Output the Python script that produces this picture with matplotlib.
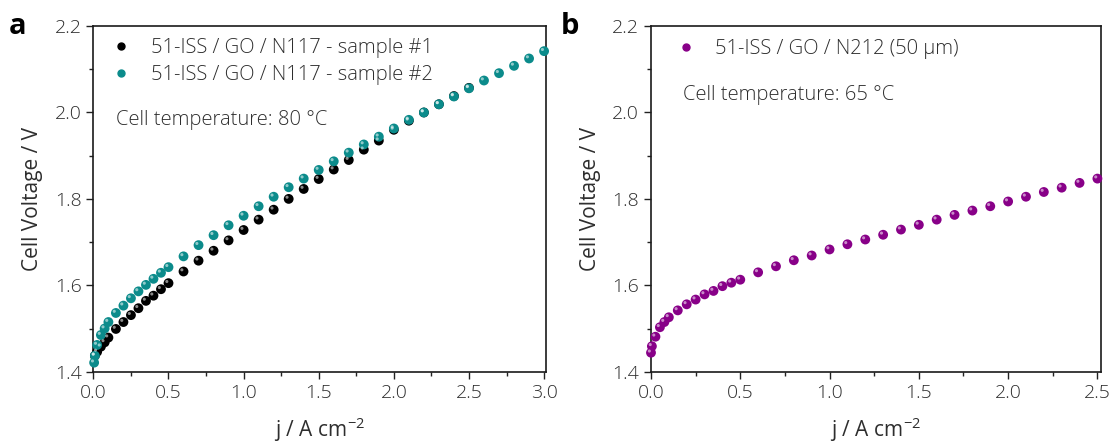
import matplotlib
matplotlib.use("Agg")
import matplotlib.pyplot as plt
from matplotlib.lines import Line2D
from matplotlib.transforms import offset_copy
from matplotlib.ticker import MultipleLocator, FormatStrFormatter

plt.rcParams['font.family'] = ['Open Sans', 'DejaVu Sans']
plt.rcParams['font.weight'] = 'light'

# panel a: N117, two samples, 80 °C
j_s1 = [0.01, 0.025, 0.05, 0.075, 0.1, 0.15, 0.2, 0.25, 0.3, 0.35, 0.4, 0.45, 0.5,
        0.6, 0.7, 0.8, 0.9, 1.0, 1.1, 1.2, 1.3, 1.4, 1.5, 1.6, 1.7, 1.8, 1.9,
        2.0, 2.1, 2.2, 2.3, 2.4, 2.5]
v_s1 = [1.437, 1.446, 1.458, 1.468, 1.479, 1.499, 1.515, 1.531, 1.547, 1.564, 1.576, 1.591, 1.605,
        1.632, 1.657, 1.680, 1.704, 1.728, 1.752, 1.775, 1.800, 1.823, 1.846, 1.868, 1.890, 1.914, 1.935,
        1.960, 1.981, 2.000, 2.019, 2.038, 2.057]

j_s2 = [0.005, 0.01, 0.025, 0.05, 0.075, 0.1, 0.15, 0.2, 0.25, 0.3, 0.35, 0.4, 0.45, 0.5,
        0.6, 0.7, 0.8, 0.9, 1.0, 1.1, 1.2, 1.3, 1.4, 1.5, 1.6, 1.7, 1.8, 1.9,
        2.0, 2.1, 2.2, 2.3, 2.4, 2.5, 2.6, 2.7, 2.8, 2.9, 3.0]
v_s2 = [1.421, 1.437, 1.462, 1.485, 1.500, 1.515, 1.536, 1.553, 1.570, 1.586, 1.601, 1.615, 1.629, 1.642,
        1.667, 1.693, 1.716, 1.739, 1.761, 1.783, 1.805, 1.827, 1.847, 1.867, 1.887, 1.907, 1.926, 1.944,
        1.963, 1.983, 2.000, 2.019, 2.037, 2.056, 2.074, 2.091, 2.108, 2.125, 2.142]

# panel b: N212, 65 °C
j_b = [0.0, 0.005, 0.025, 0.05, 0.075, 0.1, 0.15, 0.2, 0.25, 0.3, 0.35, 0.4, 0.45, 0.5,
       0.6, 0.7, 0.8, 0.9, 1.0, 1.1, 1.2, 1.3, 1.4, 1.5, 1.6, 1.7, 1.8, 1.9,
       2.0, 2.1, 2.2, 2.3, 2.4, 2.5]
v_b = [1.444, 1.459, 1.481, 1.503, 1.515, 1.526, 1.542, 1.556, 1.567, 1.579, 1.587, 1.598, 1.606, 1.613,
       1.630, 1.644, 1.658, 1.669, 1.683, 1.695, 1.706, 1.717, 1.729, 1.740, 1.752, 1.763, 1.773, 1.783,
       1.794, 1.805, 1.816, 1.826, 1.837, 1.847]

lab_s1 = '51-ISS / GO / N117 - sample #1'
lab_s2 = '51-ISS / GO / N117 - sample #2'
lab_b = '51-ISS / GO / N212 (50 \u03bcm)'

c_s1 = '#000000'
c_s2 = '#0b8b8b'
c_b = '#880088'
txt = '#2e2e2e'

fig = plt.figure(figsize=(11.13, 4.42), dpi=100)
ax1 = fig.add_axes([0.0839, 0.159, 0.4063, 0.782])
ax2 = fig.add_axes([0.5849, 0.159, 0.4043, 0.782])


def balls(ax, x, y, color, size=50):
    # sphere look: base dot plus a small light spot up-left
    ax.scatter(x, y, s=size, color=color, edgecolors='none', zorder=3, clip_on=False)
    hl = offset_copy(ax.transData, fig=fig, x=-1.2, y=1.2, units='points')
    ax.scatter(x, y, s=5, color='white', alpha=0.55, edgecolors='none',
               transform=hl, zorder=4, clip_on=False)


balls(ax1, j_s1, v_s1, c_s1)
balls(ax1, j_s2, v_s2, c_s2)
balls(ax2, j_b, v_b, c_b)

for ax, xmax in ((ax1, 3.01), (ax2, 2.52)):
    ax.set_xlim(0, xmax)
    ax.set_ylim(1.4, 2.2)
    ax.xaxis.set_major_locator(MultipleLocator(0.5))
    ax.xaxis.set_minor_locator(MultipleLocator(0.25))
    ax.yaxis.set_major_locator(MultipleLocator(0.2))
    ax.yaxis.set_minor_locator(MultipleLocator(0.1))
    ax.xaxis.set_major_formatter(FormatStrFormatter('%.1f'))
    ax.yaxis.set_major_formatter(FormatStrFormatter('%.1f'))
    ax.tick_params(which='both', direction='out', top=False, right=False,
                   colors='#222222', labelcolor=txt, labelsize=14, width=1)
    ax.tick_params(which='major', length=5)
    ax.tick_params(which='minor', length=3)
    for sp in ax.spines.values():
        sp.set_linewidth(1.2)
        sp.set_color('#1a1a1a')
    ax.set_xlabel('j / A cm$^{\\mathregular{-2}}$', fontsize=15, color=txt, labelpad=10)
    ax.set_ylabel('Cell Voltage / V', fontsize=15, color=txt, labelpad=8)

h1 = [Line2D([], [], ls='none', marker='o', ms=5, color=c_s1),
      Line2D([], [], ls='none', marker='o', ms=5, color=c_s2)]
ax1.legend(h1, [lab_s1, lab_s2], loc='upper left', frameon=False, fontsize=14.5,
           handlelength=0.9, handletextpad=1.0, labelspacing=0.35,
           bbox_to_anchor=(0.002, 1.017), labelcolor=txt)
ax1.text(0.05, 0.728, 'Cell temperature: 80 \u00b0C', transform=ax1.transAxes,
         fontsize=14.5, color=txt, va='center')

h2 = [Line2D([], [], ls='none', marker='o', ms=5, color=c_b)]
ax2.legend(h2, [lab_b], loc='upper left', frameon=False, fontsize=14.5,
           handlelength=0.9, handletextpad=1.0, bbox_to_anchor=(0.018, 1.015),
           labelcolor=txt)
ax2.text(0.072, 0.800, 'Cell temperature: 65 \u00b0C', transform=ax2.transAxes,
         fontsize=14.5, color=txt, va='center')

fig.text(0.008, 0.94, 'a', fontsize=21, fontweight='bold', va='center', color='black')
fig.text(0.504, 0.94, 'b', fontsize=21, fontweight='bold', va='center', color='black')

fig.savefig('out.png', dpi=100)
